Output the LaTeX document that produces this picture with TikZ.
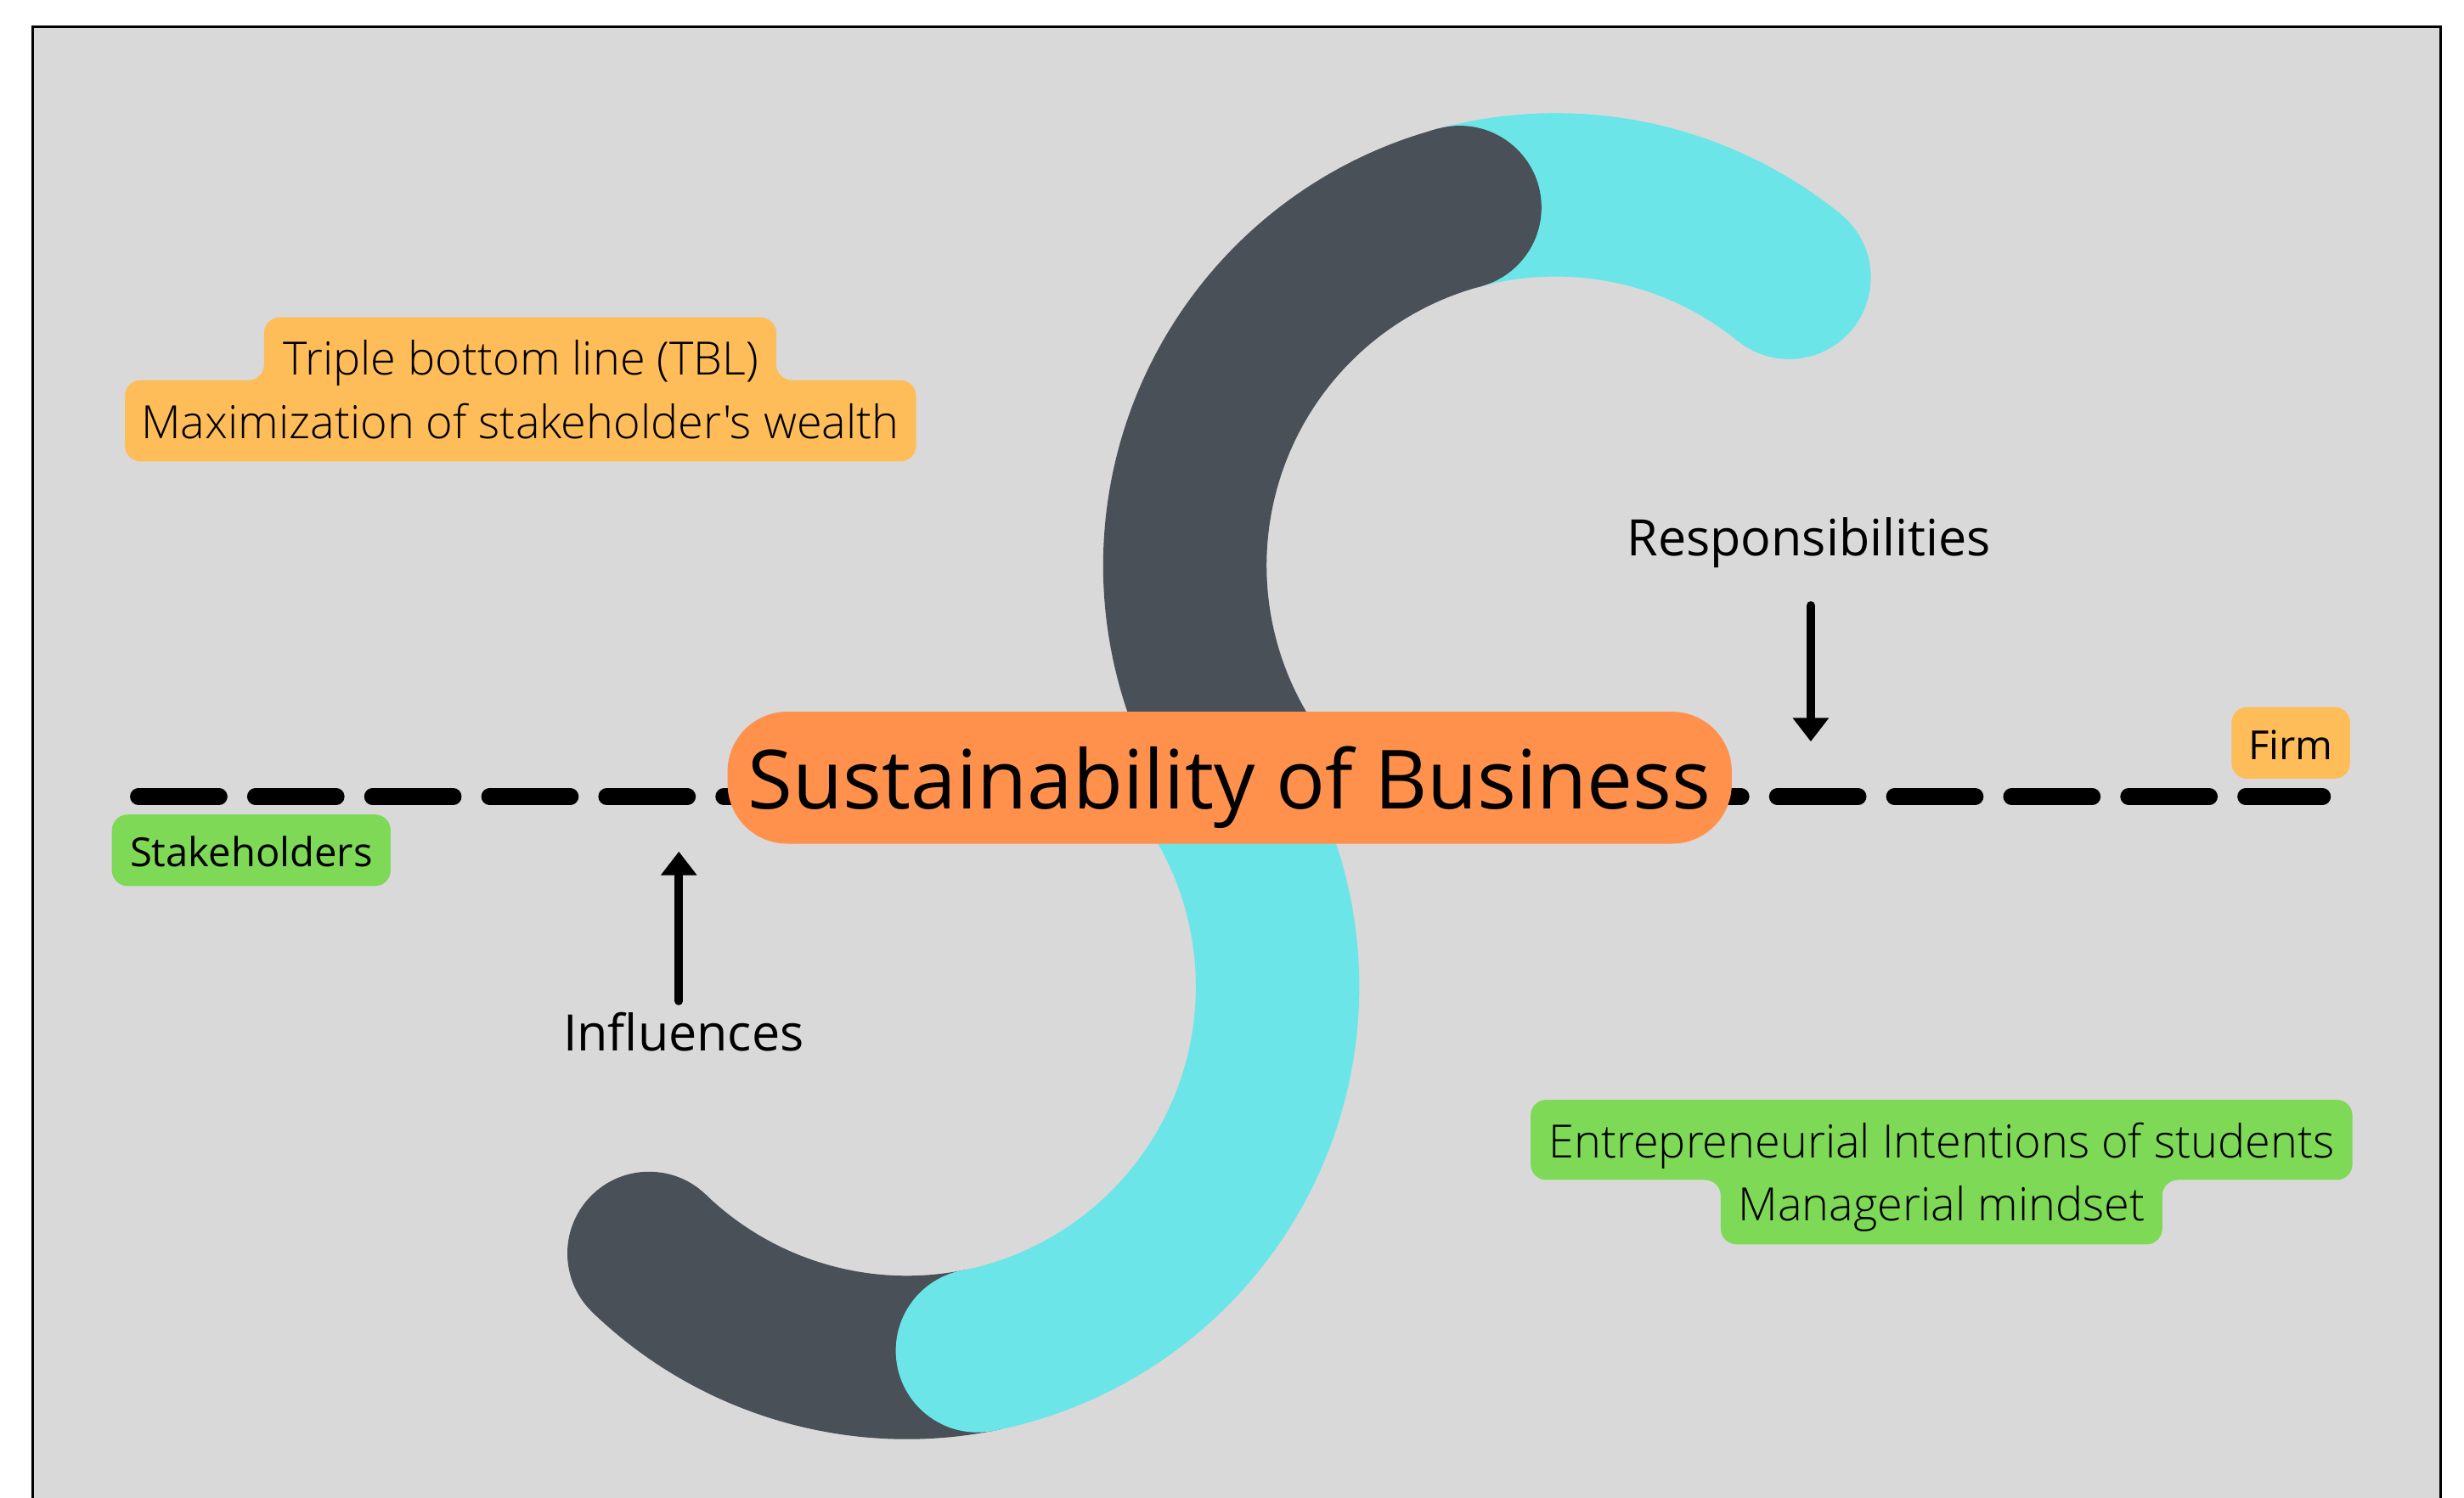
\documentclass[tikz,border=0pt]{standalone}
\usepackage{fontspec}
\setmainfont{Open Sans}
\IfFontExistsTF{Open Sans Light}
  {\newfontfamily\lightfont{Open Sans Light}}
  {\newfontfamily\lightfont{Open Sans}}
\usetikzlibrary{arrows.meta,positioning,calc}

\definecolor{bggray}{HTML}{D9D9D9}
\definecolor{slate}{HTML}{495057}
\definecolor{aqua}{HTML}{6CE5E8}
\definecolor{coral}{HTML}{FF914D}
\definecolor{sand}{HTML}{FFBD59}
\definecolor{leaf}{HTML}{7ED957}

\tikzset{
  band/.style={line width=104pt, line cap=butt},
  tagbox/.style={rounded corners=10pt, inner sep=0pt, text height=25pt, text depth=4pt,
    font=\fontsize{25.5}{30}\selectfont},
  caption/.style={inner sep=0pt, anchor=base, font=\fontsize{32}{38}\selectfont},
  tagline/.style={inner sep=0pt, anchor=base, font=\lightfont\fontsize{29.2}{34}\selectfont},
  pointer/.style={->, line width=5.4pt, line cap=round},
}

\begin{document}
\begin{tikzpicture}[x=1pt, y=1pt, >={Triangle[width=22pt,length=15pt]}]
        \useasboundingbox (0,0) rectangle (1568,953);

        % canvas
        \fill[bggray] (21,-5) rectangle (1553,936);
        \draw[line width=1.5pt] (21,-5) -- (21,936) -- (1553,936) -- (1553,-5);

        % S shape, upper half
        \coordinate (up) at (990,593);
        \draw[aqua, band] ($(up)+(51:236)$) arc[start angle=51, end angle=106, radius=236];
        \fill[aqua] ($(up)+(51:236)$) circle (52);
        \draw[slate, band] ($(up)+(105:236)$) arc[start angle=105, end angle=213, radius=236];
        \fill[slate] ($(up)+(105:236)$) circle (52);

        % S shape, lower half
        \coordinate (lo) at (577,325);
        \draw[slate, band] ($(lo)+(226:236)$) arc[start angle=226, end angle=282, radius=236];
        \fill[slate] ($(lo)+(226:236)$) circle (52);
        \draw[aqua, band] ($(lo)+(33:236)$) arc[start angle=33, end angle=-79, radius=236];
        \fill[aqua] ($(lo)+(-79:236)$) circle (52);

        % dashed line
        \coordinate (lineL) at (88,446);
        \coordinate (lineR) at (1478,446);
        \draw[line width=10.5pt, line cap=round, dash pattern=on 51.5pt off 23pt] (lineL) -- (lineR);

        % central title
        \node[fill=coral, rounded corners=38pt, minimum width=639pt, minimum height=84pt,
              inner sep=0pt, text height=50pt, text depth=10pt,
              font=\fontsize{52}{60}\selectfont] (sob) at (782.5,458) {Sustainability of Business};

        % end labels
        \node[tagbox, fill=leaf, minimum width=177.4pt, minimum height=45.5pt] (stake) at (159.9,411.8) {Stakeholders};
        \node[tagbox, fill=sand, minimum width=75.5pt, minimum height=45.6pt] (firm) at (1457.8,480.2) {Firm};

        % responsibilities and influences
        \node[caption] (resp) at (1151,599.5) {Responsibilities};
        \coordinate (rtip) at (1152.3,481);
        \draw[pointer] ([yshift=-24pt]resp.south -| rtip) -- (rtip);

        \node[caption] (infl) at (435,284.2) {Influences};
        \coordinate (itip) at (432,411);
        \draw[pointer] ([yshift=7pt]infl.north -| itip) -- (itip);

        % orange tag, top left
        \fill[sand, rounded corners=10pt] (331,659.3) -- (583,659.3) -- (583,711) -- (494,711)
            -- (494,751) -- (168,751) -- (168,711) -- (79.5,711) -- (79.5,659.3) -- cycle;
        \node[tagline] (tbl) at (331.5,714.3) {Triple bottom line (TBL)};
        \node[tagline] (wealth) at (331,674) {Maximization of stakeholder's wealth};

        % green tag, bottom right
        \fill[leaf, rounded corners=10pt] (1235,253) -- (974,253) -- (974,202) -- (1095,202)
            -- (1095,161) -- (1376,161) -- (1376,202) -- (1497,202) -- (1497,253) -- cycle;
        \node[tagline] (intent) at (1235.5,216) {Entrepreneurial Intentions of students};
        \node[tagline] (mindset) at (1235.5,176) {Managerial mindset};
\end{tikzpicture}
\end{document}
